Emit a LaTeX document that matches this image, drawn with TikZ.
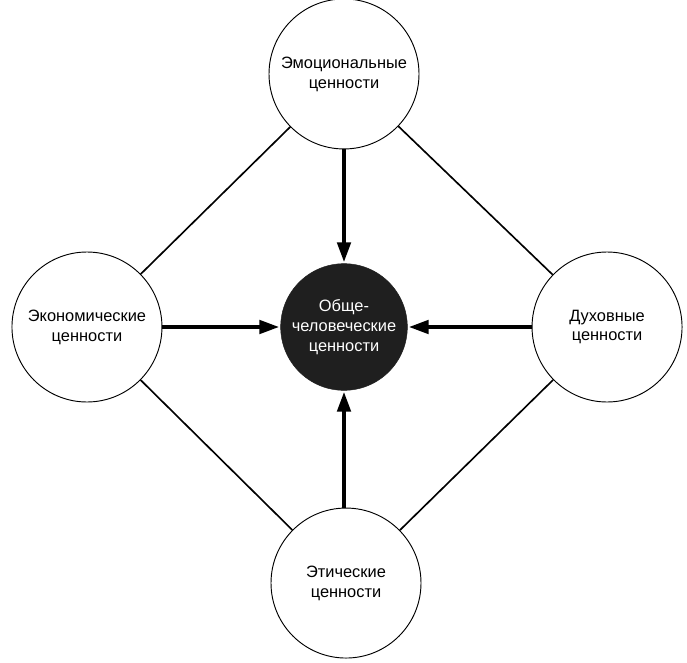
\documentclass[tikz,border=0pt]{standalone}
\usepackage{fontspec}
\setmainfont{Liberation Sans}
\usepackage{tikz}
\usetikzlibrary{positioning,arrows.meta}

\tikzset{
  val/.style={circle, draw, line width=0.8pt, minimum size=4.5cm, inner sep=0pt,
    align=center, font=\fontsize{14}{17}\selectfont},
  core/.style={circle, fill=black!88, draw=black!88, minimum size=3.8cm, inner sep=0pt,
    align=center, text=white, font=\fontsize{14}{17}\selectfont},
  link/.style={line width=1.4pt},
  arr/.style={line width=3.4pt, -{Triangle[length=6mm, width=4mm]}, shorten >=1pt}
}

\begin{document}
\begin{tikzpicture}
\useasboundingbox (0,0) rectangle (20.61,-19.89);

\node[core] (c) at (10.32,-9.81) {Обще-\\человеческие\\ценности};
% Define nodes
\node[val, above=3.42cm of c]   (e) {Эмоциональные\\ценности};
\node[val, left=3.54cm of c]    (k) {Экономические\\ценности};
\node[val, right=3.72cm of c]   (d) {Духовные\\ценности};
\node[val, below=3.51cm of c, xshift=0.06cm] (t) {Этические\\ценности};

% Connect the nodes
\draw[link] (e) -- (k);
\draw[link] (e) -- (d);
\draw[link] (t) -- (k);
\draw[link] (t) -- (d);

\draw[arr] (e) -- (c);
\draw[arr] (k) -- (c);
\draw[arr] (d) -- (c);
\draw[arr] (t.north -| c) -- (c);

\end{tikzpicture}
\end{document}
